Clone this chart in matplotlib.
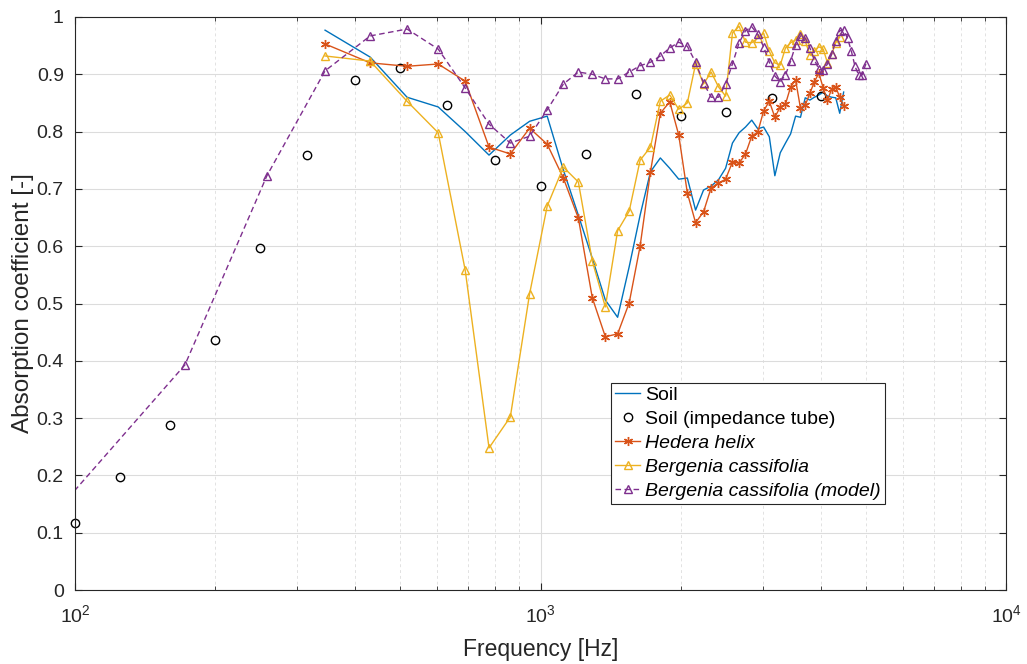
import matplotlib
matplotlib.use("Agg")
import matplotlib.pyplot as plt
from matplotlib.ticker import LogLocator, FixedLocator, NullFormatter

plt.rcParams['font.family'] = ['Liberation Sans', 'DejaVu Sans']
plt.rcParams['mathtext.fontset'] = 'custom'
plt.rcParams['mathtext.rm'] = 'Liberation Sans'
plt.rcParams['mathtext.it'] = 'Liberation Sans:italic'

# Frequencies of the measurement grid [Hz]
freq = [86.1, 172.3, 258.4, 344.5, 430.7, 516.8, 602.9, 689.1, 775.2, 861.3,
        947.5, 1033.6, 1119.7, 1205.9, 1292.0, 1378.1, 1464.3, 1550.4, 1636.5, 1722.7,
        1808.8, 1894.9, 1981.1, 2067.2, 2153.3, 2239.5, 2325.6, 2411.7, 2497.9, 2584.0,
        2670.1, 2756.3, 2842.4, 2928.5, 3014.6, 3100.8, 3186.9, 3273.0, 3359.2, 3445.3,
        3531.4, 3617.6, 3703.7, 3789.8, 3876.0, 3962.1, 4048.2, 4134.4, 4220.5, 4306.6,
        4392.8, 4478.9, 4565.0, 4651.2, 4737.3, 4823.4, 4909.6, 4995.7]

# Soil (in situ), starting at freq[3]
soil = [0.977, 0.930, 0.860, 0.843, 0.800, 0.759, 0.794, 0.818, 0.827, 0.733,
        0.654, 0.579, 0.506, 0.476, 0.564, 0.654, 0.730, 0.754, 0.736, 0.717,
        0.719, 0.663, 0.698, 0.705, 0.716, 0.736, 0.780, 0.798, 0.808, 0.820,
        0.805, 0.808, 0.791, 0.723, 0.763, 0.780, 0.796, 0.827, 0.825, 0.859,
        0.855, 0.860, 0.864, 0.869, 0.862, 0.860, 0.859, 0.832, 0.869]

# Soil (impedance tube), third-octave bands
tube_freq = [100, 125, 160, 200, 250, 315, 400, 500, 630, 800, 1000, 1250,
             1600, 2000, 2500, 3150, 4000]
tube = [0.117, 0.197, 0.288, 0.436, 0.597, 0.759, 0.890, 0.911, 0.846, 0.750,
        0.705, 0.761, 0.866, 0.827, 0.834, 0.859, 0.862]

# Hedera helix, starting at freq[3]
hedera = [0.953, 0.920, 0.914, 0.918, 0.888, 0.773, 0.761, 0.806, 0.778, 0.719,
          0.649, 0.510, 0.442, 0.447, 0.501, 0.600, 0.730, 0.832, 0.852, 0.794,
          0.693, 0.641, 0.660, 0.702, 0.710, 0.717, 0.747, 0.745, 0.761, 0.792,
          0.799, 0.836, 0.853, 0.825, 0.843, 0.848, 0.878, 0.890, 0.841, 0.846,
          0.867, 0.887, 0.902, 0.876, 0.855, 0.874, 0.878, 0.860, 0.845]

# Bergenia cassifolia, starting at freq[3]
bergenia = [0.932, 0.923, 0.853, 0.798, 0.558, 0.248, 0.302, 0.517, 0.670, 0.738,
            0.712, 0.574, 0.494, 0.627, 0.661, 0.750, 0.773, 0.853, 0.864, 0.839,
            0.850, 0.918, 0.883, 0.904, 0.878, 0.862, 0.972, 0.984, 0.956, 0.955,
            0.963, 0.972, 0.940, 0.920, 0.916, 0.946, 0.955, 0.960, 0.970, 0.958,
            0.934, 0.941, 0.948, 0.944, 0.920, 0.935, 0.955, 0.965]

# Bergenia cassifolia (model), starting at freq[0]
model = [0.114, 0.393, 0.723, 0.906, 0.967, 0.979, 0.944, 0.876, 0.813, 0.780,
         0.792, 0.838, 0.883, 0.904, 0.900, 0.892, 0.892, 0.904, 0.915, 0.921,
         0.932, 0.946, 0.956, 0.949, 0.921, 0.885, 0.860, 0.860, 0.883, 0.918,
         0.955, 0.976, 0.983, 0.970, 0.948, 0.921, 0.897, 0.887, 0.899, 0.923,
         0.951, 0.967, 0.963, 0.946, 0.925, 0.909, 0.907, 0.918, 0.935, 0.958,
         0.976, 0.977, 0.963, 0.941, 0.914, 0.899, 0.899, 0.918]

C_BLUE = '#0072BD'
C_ORANGE = '#D95319'
C_YELLOW = '#EDB120'
C_PURPLE = '#7E2F8E'

fig = plt.figure(figsize=(10.27, 6.64), dpi=100)
ax = fig.add_axes([0.073, 0.1114, 0.9066, 0.863])

lw = 1.0
ax.plot(freq[3:3 + len(soil)], soil, color=C_BLUE, lw=lw, label='Soil')
ax.plot(tube_freq, tube, 'o', mfc='none', mec='black', ms=6, mew=1.0,
        label='Soil (impedance tube)', clip_on=False)
ax.plot(freq[3:3 + len(hedera)], hedera, color=C_ORANGE, lw=lw, marker=(6, 2, 0),
        ms=6.5, mew=1.0, label='Hedera helix')
ax.plot(freq[3:3 + len(bergenia)], bergenia, color=C_YELLOW, lw=lw, marker='^',
        mfc='none', ms=6.2, mew=1.0, label='Bergenia cassifolia')
ax.plot(freq[:len(model)], model, color=C_PURPLE, lw=lw, ls=(0, (4, 2.5)), marker='^',
        mfc='none', ms=6.2, mew=1.0, label='Bergenia cassifolia (model)')

ax.set_xscale('log')
ax.set_xlim(100, 10000)
ax.set_ylim(0, 1)
ax.set_yticks([0, 0.1, 0.2, 0.3, 0.4, 0.5, 0.6, 0.7, 0.8, 0.9, 1.0])
ax.set_yticklabels(['0', '0.1', '0.2', '0.3', '0.4', '0.5', '0.6', '0.7', '0.8', '0.9', '1'])
ax.xaxis.set_major_locator(FixedLocator([100, 1000, 10000]))
ax.set_xticklabels([r'$10^2$', r'$10^3$', r'$10^4$'])
ax.xaxis.set_minor_locator(LogLocator(base=10, subs=[2, 3, 4, 5, 6, 7, 8, 9]))
ax.xaxis.set_minor_formatter(NullFormatter())

ax.grid(True, which='major', color='#DCDCDC', lw=0.8, ls='-')
ax.grid(True, which='minor', axis='x', color='#E2E2E2', lw=0.7, ls=(0, (3, 3)))
ax.set_axisbelow(True)

for s in ax.spines.values():
    s.set_color('#262626')
    s.set_linewidth(0.8)
ax.tick_params(which='both', direction='in', top=True, right=True, colors='#262626',
               labelsize=14, labelcolor='#262626')
ax.tick_params(which='major', length=5, pad=8)
ax.tick_params(which='minor', length=3)
ax.tick_params(axis='x', which='major', pad=10)

ax.set_xlabel('Frequency [Hz]', fontsize=16.5, color='#262626', labelpad=9)
ax.set_ylabel('Absorption coefficient [-]', fontsize=17.5, color='#262626', labelpad=2)

leg = ax.legend(loc='upper left', bbox_to_anchor=(0.576, 0.362), fontsize=14,
                frameon=True, fancybox=False, edgecolor='#262626', framealpha=1,
                handlelength=1.3, handletextpad=0.25, borderpad=0.2, labelspacing=0.33,
                borderaxespad=0)
leg.get_frame().set_linewidth(0.8)
for i, t in enumerate(leg.get_texts()):
    if i >= 2:
        t.set_fontstyle('italic')

fig.savefig('out.png', dpi=100)
